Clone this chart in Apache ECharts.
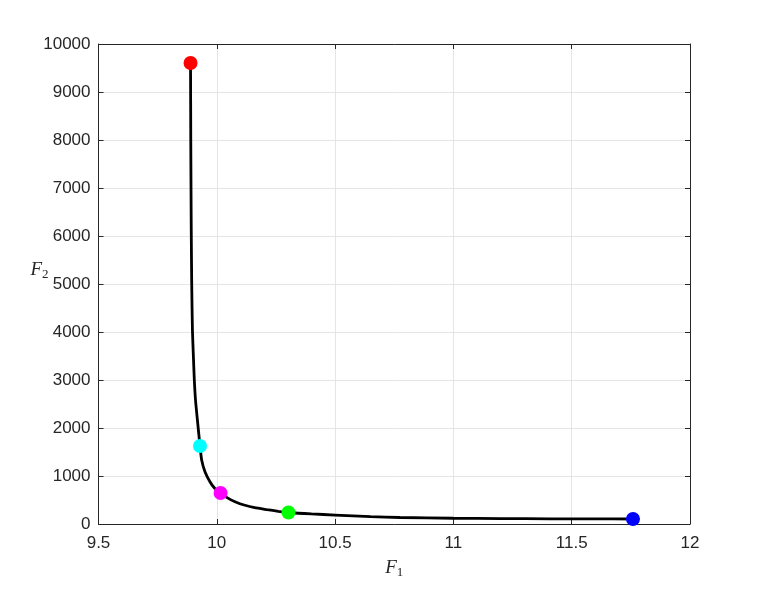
<!DOCTYPE html>
<html><head><meta charset="utf-8">
<script src="https://cdn.jsdelivr.net/npm/echarts@6/dist/echarts.min.js"></script>
<style>html,body{margin:0;padding:0;background:#fff}#c{width:763px;height:590px}</style>
</head><body><div id="c"></div>
<script>
var curveF1 = [9.889, 9.890, 9.891, 9.892, 9.894, 9.897, 9.901, 9.905, 9.910, 9.918, 9.929, 9.936, 9.950, 9.971, 9.990, 10.014, 10.045, 10.077, 10.119, 10.16, 10.212, 10.26, 10.303, 10.4, 10.5, 10.65, 10.774, 11.0, 11.2, 11.41, 11.6, 11.759];
var curveF2 = [9604, 8000, 7000, 6125, 5000, 4040, 3500, 3000, 2583, 2167, 1625, 1333, 1090, 881, 750, 652, 545, 465, 390, 340, 300, 265, 240, 210, 187, 155, 135, 120, 113, 108, 106, 104];
var pointF1 = [9.889, 9.929, 10.016, 10.303, 11.759];
var pointF2 = [9604, 1625, 646, 240, 104];
var pointColors = ['#ff0000', '#00ffff', '#ff00ff', '#00ff00', '#0000ff'];
var xTicks = [9.5, 10, 10.5, 11, 11.5, 12];
var yTicks = [0, 1000, 2000, 3000, 4000, 5000, 6000, 7000, 8000, 9000, 10000];

var chart = echarts.init(document.getElementById('c'));
var axisCol = '#262626';
var font = 'Liberation Sans, Arial, sans-serif';
function nameRich() {
  return {
    i: {fontFamily: 'Liberation Serif, DejaVu Serif, serif', fontStyle: 'italic', fontSize: 19, color: axisCol},
    s: {fontFamily: 'Liberation Serif, DejaVu Serif, serif', fontSize: 13, color: axisCol, padding: [10, 0, 0, 0]}
  };
}
var common = {
  axisLine: {show: true, onZero: false, lineStyle: {color: axisCol, width: 1}},
  axisTick: {show: true, inside: true, length: 5, lineStyle: {color: axisCol}},
  splitLine: {show: false}
};
var option = {
  animation: false,
  backgroundColor: '#fff',
  grid: {left: 98.5, right: 73, top: 44, bottom: 66, containLabel: false},
  xAxis: [
    Object.assign({}, common, {
      type: 'value', min: xTicks[0], max: xTicks[xTicks.length - 1], interval: 0.5, position: 'bottom',
      axisLabel: {color: axisCol, fontSize: 17, fontFamily: font, margin: 11},
      splitLine: {show: true, lineStyle: {color: '#e5e5e5', width: 1}},
      name: '{i|F}{s|1}', nameLocation: 'middle', nameGap: 32,
      nameTextStyle: {rich: nameRich()}
    }),
    Object.assign({}, common, {
      type: 'value', min: xTicks[0], max: xTicks[xTicks.length - 1], interval: 0.5, position: 'top',
      axisLabel: {show: false}
    })
  ],
  yAxis: [
    Object.assign({}, common, {
      type: 'value', min: yTicks[0], max: yTicks[yTicks.length - 1], interval: 1000, position: 'left',
      axisLabel: {color: axisCol, fontSize: 17, fontFamily: font, margin: 8,
        formatter: function (v) { return String(v); }},
      splitLine: {show: true, lineStyle: {color: '#e5e5e5', width: 1}},
      name: '{i|F}{s|2}', nameLocation: 'middle', nameGap: 50, nameRotate: 0, nameMoveOverlap: false,
      nameTextStyle: {rich: nameRich(), padding: [0, 0, 28, 0]}
    }),
    Object.assign({}, common, {
      type: 'value', min: yTicks[0], max: yTicks[yTicks.length - 1], interval: 1000, position: 'right',
      axisLabel: {show: false}
    })
  ],
  series: [
    {
      type: 'line', smooth: 0.2, showSymbol: false, symbol: 'none',
      data: curveF1.map(function (x, i) { return [x, curveF2[i]]; }),
      lineStyle: {color: '#000', width: 2.8}, z: 2
    },
    {
      type: 'scatter', symbolSize: 14,
      data: pointF1.map(function (x, i) {
        return {value: [x, pointF2[i]], itemStyle: {color: pointColors[i], opacity: 1}};
      }),
      z: 3
    }
  ]
};
chart.setOption(option);
</script>
</body></html>
